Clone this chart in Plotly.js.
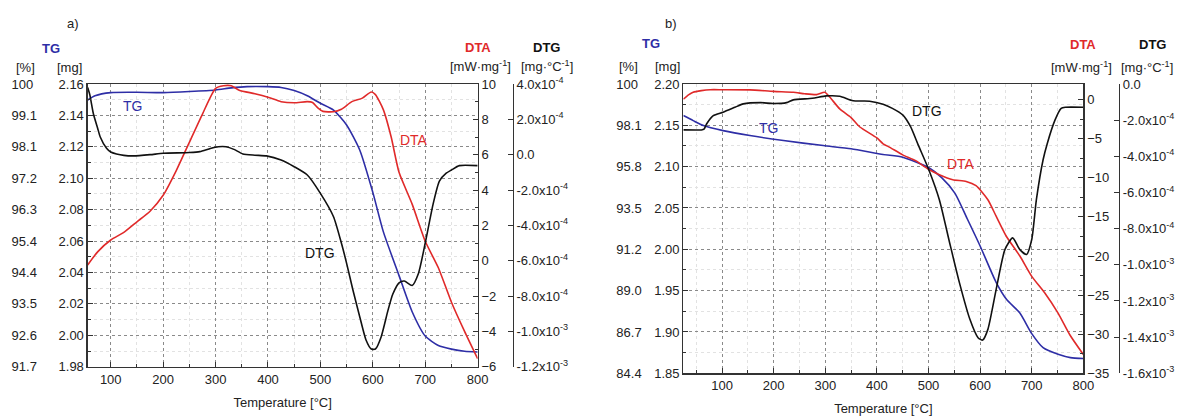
<!DOCTYPE html>
<html>
<head>
<meta charset="utf-8">
<script src="https://cdn.plot.ly/plotly-3.0.1.min.js"></script>
<style>html,body{margin:0;padding:0;background:#fff;}#chart{width:1180px;height:416px;}</style>
</head>
<body>
<div id="chart"></div>
<script>
// ---------- Panel a) ----------
const tgA_T  = [56,70,100,150,200,250,300,330,360,400,425,450,475,500,525,550,575,600,620,650,675,700,725,750,775,800];
const tgA_mg = [2.1498,2.1525,2.1545,2.1547,2.1545,2.1552,2.1562,2.1575,2.1583,2.1583,2.1578,2.1558,2.1525,2.1477,2.1434,2.1339,2.118,2.091,2.066,2.038,2.015,1.9995,1.9935,1.9912,1.9898,1.9894];

const dtaA_T = [56,75,100,125,150,175,200,225,250,275,300,315,330,345,375,400,425,450,475,485,495,505,525,540,560,580,597,605,620,635,650,675,700,725,750,775,800];
const dtaA_v = [-0.24,0.5,1.17,1.6,2.2,2.8,3.7,5.1,6.7,8.3,9.75,9.9,9.9,9.65,9.45,9.25,9.0,8.94,9.0,8.95,8.65,8.45,8.43,8.57,9.0,9.2,9.55,9.4,8.55,7.0,5.0,3.2,1.1,-0.4,-2.35,-4.0,-5.55];

const dtgA_T = [56,60,67,75,80,92,100,111,125,143,175,200,250,270,290,305,320,335,352,375,397,425,450,475,500,525,540,550,562,575,587,597,605,616,629,638,650,660,675,687,700,715,727,740,750,765,800];
const dtgA_v = [3.8e-4,3.4e-4,2.3e-4,1.5e-4,1.0e-4,0.36e-4,0.15e-4,0.04e-4,-0.04e-4,-0.07e-4,0.0,0.08e-4,0.12e-4,0.17e-4,0.35e-4,0.45e-4,0.45e-4,0.3e-4,0.04e-4,-0.03e-4,-0.07e-4,-0.3e-4,-0.68e-4,-1.15e-4,-2.19e-4,-3.51e-4,-5.0e-4,-6.15e-4,-7.66e-4,-9.17e-4,-10.49e-4,-11.0e-4,-11.0e-4,-10.3e-4,-8.8e-4,-7.9e-4,-7.25e-4,-7.15e-4,-7.4e-4,-6.72e-4,-5.0e-4,-2.8e-4,-1.5e-4,-1.05e-4,-0.87e-4,-0.62e-4,-0.62e-4];

const mgTicksA   = [1.98,2.00,2.02,2.04,2.06,2.08,2.10,2.12,2.14,2.16];
const pctLabelsA = ['91.7','92.6','93.5','94.4','95.4','96.3','97.2','98.1','99.1','100'];
const dtgTicksA  = [4e-4,2e-4,0,-2e-4,-4e-4,-6e-4,-8e-4,-1e-3,-1.2e-3];
const dtgLabelsA = ['4.0x10<sup>-4</sup>','2.0x10<sup>-4</sup>','0.0','-2.0x10<sup>-4</sup>','-4.0x10<sup>-4</sup>','-6.0x10<sup>-4</sup>','-8.0x10<sup>-4</sup>','-1.0x10<sup>-3</sup>','-1.2x10<sup>-3</sup>'];

// ---------- Panel b) ----------
const tgB_T  = [25,44,64,102,154,219,296,350,412,450,500,525,551,575,600,631,651,677,700,722,751,775,800];
const tgB_mg = [2.1618,2.1557,2.1497,2.1436,2.1376,2.1316,2.1255,2.1216,2.1147,2.1115,2.099,2.087,2.068,2.037,2.004,1.96,1.9395,1.923,1.898,1.881,1.873,1.869,1.868];

const dtaB_T = [25,35,44,60,77,100,154,200,238,260,283,299,309,328,350,367,400,412,425,450,475,500,521,547,573,592,615,631,651,677,700,725,751,774,800];
const dtaB_v = [0.05,0.6,0.94,1.15,1.27,1.27,1.25,1.05,0.94,0.75,0.64,0.94,0.3,-1.19,-2.3,-3.5,-4.9,-5.65,-6.1,-7.06,-7.8,-8.9,-9.6,-10.24,-10.46,-11.0,-12.8,-14.9,-17.5,-20.0,-22.6,-24.7,-27.3,-30.1,-32.6];

const dtgB_T = [25,60,65,70,83,102,125,141,175,199,225,238,275,302,328,354,386,412,430,450,465,480,500,521,541,560,580,596,605,615,631,648,663,677,690,700,709,722,730,745,757,765,800];
const dtgB_v = [-2.54e-4,-2.54e-4,-2.5e-4,-2.21e-4,-1.75e-4,-1.56e-4,-1.29e-4,-1.1e-4,-1.03e-4,-1.08e-4,-1.03e-4,-0.88e-4,-0.79e-4,-0.66e-4,-0.68e-4,-0.93e-4,-0.95e-4,-1.12e-4,-1.35e-4,-1.71e-4,-2.35e-4,-3.37e-4,-4.7e-4,-6.4e-4,-8.79e-4,-11.0e-4,-13.0e-4,-14.03e-4,-14.16e-4,-13.57e-4,-11.37e-4,-9.16e-4,-8.51e-4,-9.16e-4,-9.43e-4,-8.6e-4,-6.4e-4,-4.19e-4,-3.3e-4,-2.0e-4,-1.35e-4,-1.29e-4,-1.29e-4];

const mgTicksB   = [1.85,1.90,1.95,2.00,2.05,2.10,2.15,2.20];
const pctLabelsB = ['84.4','86.7','89.0','91.2','93.5','95.8','98.1','100'];
const dtgTicksB  = [0,-2e-4,-4e-4,-6e-4,-8e-4,-1e-3,-1.2e-3,-1.4e-3,-1.6e-3];
const dtgLabelsB = ['0.0','-2.0x10<sup>-4</sup>','-4.0x10<sup>-4</sup>','-6.0x10<sup>-4</sup>','-8.0x10<sup>-4</sup>','-1.0x10<sup>-3</sup>','-1.2x10<sup>-3</sup>','-1.4x10<sup>-3</sup>','-1.6x10<sup>-3</sup>'];

const xTicks = [100,200,300,400,500,600,700,800];

// ---------- styling ----------
const FONT = 'Liberation Sans, Arial, sans-serif';
const BLUE = '#2e2ea6', RED = '#e02a2a', BLACK = '#111111';
const AX = '#333333';
const tf = {family: FONT, size: 13, color: '#222'};

const domXA = [0.0743, 0.4048], domYA = [0.1185, 0.7981];
const domXB = [0.5791, 0.9181], domYB = [0.1026, 0.7981];

function line(color){ return {color: color, width: 1.6, shape: 'spline', smoothing: 0.6}; }

const traces = [
  {x: tgA_T,  y: tgA_mg, xaxis: 'x',  yaxis: 'y',  mode: 'lines', line: line(BLUE),  hoverinfo: 'skip'},
  {x: dtaA_T, y: dtaA_v, xaxis: 'x',  yaxis: 'y3', mode: 'lines', line: line(RED),   hoverinfo: 'skip'},
  {x: dtgA_T, y: dtgA_v, xaxis: 'x',  yaxis: 'y4', mode: 'lines', line: line(BLACK), hoverinfo: 'skip'},
  {x: tgB_T,  y: tgB_mg, xaxis: 'x2', yaxis: 'y5', mode: 'lines', line: line(BLUE),  hoverinfo: 'skip'},
  {x: dtaB_T, y: dtaB_v, xaxis: 'x2', yaxis: 'y7', mode: 'lines', line: line(RED),   hoverinfo: 'skip'},
  {x: dtgB_T, y: dtgB_v, xaxis: 'x2', yaxis: 'y8', mode: 'lines', line: line(BLACK), hoverinfo: 'skip'},
  // empty carriers so the percent label axes are created
  {x: [null], y: [null], xaxis: 'x',  yaxis: 'y2', mode: 'lines', hoverinfo: 'skip', showlegend: false},
  {x: [null], y: [null], xaxis: 'x2', yaxis: 'y6', mode: 'lines', hoverinfo: 'skip', showlegend: false}
];

function xAxis(dom, anchor, range, standoff){
  return {domain: dom, anchor: anchor, range: range, tickvals: xTicks,
    showline: true, linecolor: AX, linewidth: 1.2, mirror: true,
    ticks: 'inside', ticklen: 5, tickcolor: AX, tickfont: tf,
    showgrid: true, gridcolor: '#8a8a8a', griddash: '3px,3px', gridwidth: 1,
    minor: {dtick: 50, ticks: 'inside', ticklen: 3, tickcolor: AX, showgrid: true, gridcolor: '#e2e2e2', gridwidth: 1},
    zeroline: false, automargin: false, fixedrange: true,
    title: {text: 'Temperature [°C]', font: tf, standoff: standoff}};
}
function mgAxis(dom, anchor, range, ticks, dminor){
  return {domain: dom, anchor: anchor, range: range, tickvals: ticks, tickformat: '.2f',
    showline: true, linecolor: AX, linewidth: 1.2, mirror: true,
    ticks: 'inside', ticklen: 5, tickcolor: AX, tickfont: tf,
    showgrid: true, gridcolor: '#8a8a8a', griddash: '3px,3px', gridwidth: 1,
    minor: {dtick: dminor, ticks: 'inside', ticklen: 3, tickcolor: AX, showgrid: true, gridcolor: '#e2e2e2', gridwidth: 1},
    zeroline: false, automargin: false, fixedrange: true};
}
function pctAxis(dom, over, range, ticks, labels, pos){
  return {domain: dom, overlaying: over, side: 'right', anchor: 'free', position: pos,
    range: range, tickmode: 'array', tickvals: ticks, ticktext: labels, ticks: '', showline: false,
    showticklabels: true, showgrid: false, zeroline: false, tickfont: tf, automargin: false, fixedrange: true};
}
function dtaAxis(dom, over, anchor, range, dtick, dminor){
  return {domain: dom, overlaying: over, side: 'right', anchor: anchor, range: range, dtick: dtick,
    showline: true, linecolor: AX, linewidth: 1.2, ticks: 'inside', ticklen: 5, tickcolor: AX,
    minor: {dtick: dminor, ticks: 'inside', ticklen: 3, tickcolor: AX},
    showgrid: false, zeroline: false, tickfont: tf, automargin: false, fixedrange: true};
}
function dtgAxis(dom, over, range, ticks, labels, pos){
  return {domain: dom, overlaying: over, side: 'right', anchor: 'free', position: pos,
    range: range, tickvals: ticks, ticktext: labels,
    showline: true, linecolor: AX, linewidth: 1.2, ticks: 'inside', ticklen: 5, tickcolor: AX,
    showgrid: false, zeroline: false, tickfont: tf, automargin: false, fixedrange: true};
}

function ann(text, x, y, color, size, bold){
  return {text: bold ? '<b>' + text + '</b>' : text, x: x/1180, y: 1 - y/416, xref: 'paper', yref: 'paper',
    xanchor: 'center', yanchor: 'middle', showarrow: false,
    font: {family: FONT, size: size, color: color}};
}

const layout = {
  width: 1180, height: 416,
  margin: {l: 0, r: 0, t: 0, b: 0},
  paper_bgcolor: '#ffffff', plot_bgcolor: '#ffffff',
  showlegend: false,
  font: {family: FONT, size: 13, color: '#222'},
  xaxis:  xAxis(domXA, 'y', [56, 800], 12),
  yaxis:  mgAxis(domYA, 'x', [1.98, 2.16], mgTicksA, 0.01),
  yaxis2: pctAxis(domYA, 'y', [1.98, 2.16], mgTicksA, pctLabelsA, 0.009),
  yaxis3: dtaAxis(domYA, 'y', 'x', [-6, 10], 2, 1),
  yaxis4: dtgAxis(domYA, 'y', [-1.2e-3, 4e-4], dtgTicksA, dtgLabelsA, 0.4345),
  xaxis2: xAxis(domXB, 'y5', [25, 800], 12),
  yaxis5: mgAxis(domYB, 'x2', [1.85, 2.20], mgTicksB, 0.025),
  yaxis6: pctAxis(domYB, 'y5', [1.85, 2.20], mgTicksB, pctLabelsB, 0.5215),
  yaxis7: dtaAxis(domYB, 'y5', 'x2', [-35, 2], 5, 2.5),
  yaxis8: dtgAxis(domYB, 'y5', [-1.6e-3, 0], dtgTicksB, dtgLabelsB, 0.9483),
  annotations: [
    ann('a)', 73, 23, '#222', 13, false),
    ann('TG', 51, 48, BLUE, 13, true),
    ann('[%]', 25, 67, '#222', 13, false),
    ann('[mg]', 69, 67, '#222', 13, false),
    ann('DTA', 478, 47, RED, 13, true),
    ann('[mW·mg<sup>-1</sup>]', 480, 66, '#222', 13, false),
    ann('DTG', 546, 47, BLACK, 13, true),
    ann('[mg·°C<sup>-1</sup>]', 547, 66, '#222', 13, false),
    ann('TG', 132, 106, BLUE, 14, false),
    ann('DTA', 414, 140, RED, 14, false),
    ann('DTG', 320, 253, BLACK, 14, false),

    ann('b)', 671, 23, '#222', 13, false),
    ann('TG', 651, 44, BLUE, 13, true),
    ann('[%]', 628, 66, '#222', 13, false),
    ann('[mg]', 667, 66, '#222', 13, false),
    ann('DTA', 1083, 45, RED, 13, true),
    ann('[mW·mg<sup>-1</sup>]', 1081, 67, '#222', 13, false),
    ann('DTG', 1152, 45, BLACK, 13, true),
    ann('[mg·°C<sup>-1</sup>]', 1147, 67, '#222', 13, false),
    ann('TG', 768, 128, BLUE, 14, false),
    ann('DTG', 927, 111, BLACK, 14, false),
    ann('DTA', 961, 164, RED, 14, false)
  ]
};

Plotly.newPlot('chart', traces, layout, {staticPlot: true, displayModeBar: false});
</script>
</body>
</html>
